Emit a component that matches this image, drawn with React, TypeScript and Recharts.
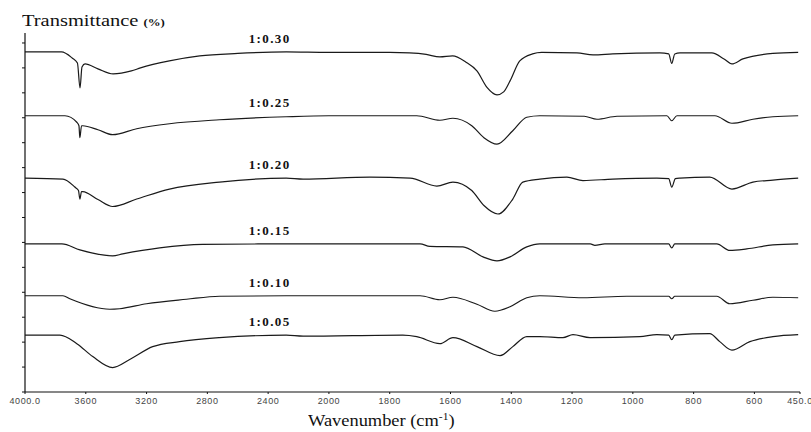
import { LineChart, Line, XAxis, YAxis, ReferenceDot } from 'recharts'

// FTIR spectra, stacked. x axis is split: 4000-2000 at half scale, 2000-450 at full scale.
const seriesNames = ['1:0.30', '1:0.25', '1:0.20', '1:0.15', '1:0.10', '1:0.05']

const wn030 = [4000, 3760, 3690, 3655, 3638, 3625, 3605, 3520, 3420, 3300, 3240, 3050, 2850, 2600, 2280, 2000, 1800, 1735, 1680, 1635, 1593, 1550, 1513, 1480, 1447, 1425, 1404, 1372, 1330, 1300, 1184, 1131, 1066, 911, 882, 872, 862, 845, 740, 700, 674, 638, 539, 456]
const t030 = [68.2, 68.2, 67.0, 66.0, 61.0, 65.2, 65.8, 64.8, 63.8, 64.4, 65.0, 66.4, 67.4, 67.9, 68.2, 68.1, 68.1, 68.0, 67.7, 67.2, 67.4, 66.2, 64.4, 61.1, 59.6, 60.2, 62.4, 66.4, 67.8, 68.1, 68.0, 67.6, 67.8, 68.0, 67.8, 65.9, 67.8, 68.0, 68.0, 66.8, 65.8, 66.8, 67.9, 68.1]

const wn025 = [4000, 3737, 3659, 3645, 3639, 3628, 3620, 3520, 3423, 3265, 3049, 2720, 2281, 2000, 1711, 1635, 1592, 1530, 1490, 1447, 1395, 1349, 1306, 1160, 1118, 1052, 888, 872, 855, 730, 674, 605, 539, 456]
const t025 = [55.4, 55.4, 54.1, 53.4, 51.0, 53.4, 53.4, 52.6, 51.6, 52.8, 53.8, 54.6, 55.2, 55.4, 55.4, 54.5, 54.9, 53.4, 51.0, 49.7, 52.4, 55.1, 55.4, 55.3, 54.7, 55.3, 55.4, 54.4, 55.4, 55.4, 53.9, 54.7, 55.2, 55.4]

const wn020 = [4000, 3750, 3672, 3648, 3639, 3628, 3620, 3520, 3423, 3265, 3049, 2720, 2281, 2170, 1865, 1733, 1645, 1592, 1530, 1490, 1444, 1395, 1362, 1306, 1217, 1164, 1066, 921, 882, 872, 860, 845, 747, 674, 605, 539, 456]
const t020 = [42.9, 42.7, 41.1, 40.4, 38.7, 40.2, 40.2, 38.6, 37.2, 38.7, 40.7, 42.1, 42.9, 42.7, 43.1, 42.9, 41.3, 42.1, 40.4, 37.4, 35.7, 38.7, 42.1, 42.7, 43.1, 42.4, 42.7, 42.9, 42.8, 41.1, 42.8, 42.9, 43.1, 40.7, 42.1, 42.5, 42.9]

const wn015 = [4000, 3757, 3639, 3423, 3357, 3114, 2832, 2281, 1700, 1668, 1559, 1493, 1447, 1404, 1349, 1306, 1140, 1125, 1092, 882, 872, 862, 724, 681, 625, 539, 456]
const t015 = [29.7, 29.7, 28.5, 27.3, 27.7, 28.9, 29.6, 29.7, 29.7, 29.2, 29.1, 27.1, 26.3, 27.1, 29.1, 29.7, 29.7, 29.4, 29.7, 29.7, 28.9, 29.7, 29.7, 28.4, 28.7, 29.5, 29.7]

const wn010 = [4000, 3750, 3705, 3442, 3377, 3200, 2937, 2720, 2281, 1700, 1635, 1592, 1513, 1454, 1404, 1349, 1306, 1164, 1020, 882, 872, 862, 724, 681, 605, 539, 456]
const t010 = [19.3, 19.3, 18.7, 16.6, 16.7, 17.7, 18.6, 19.2, 19.3, 19.3, 18.5, 19.0, 17.6, 16.2, 17.1, 18.9, 19.3, 18.9, 19.2, 19.2, 18.7, 19.2, 19.2, 17.7, 18.4, 19.0, 18.9]

const wn005 = [4000, 3770, 3659, 3554, 3423, 3311, 3160, 2983, 2720, 2281, 2170, 1757, 1711, 1635, 1592, 1513, 1437, 1395, 1349, 1306, 1230, 1197, 1141, 977, 921, 882, 872, 862, 747, 714, 674, 615, 539, 456]
const t005 = [11.4, 11.4, 9.7, 7.1, 4.9, 6.5, 9.1, 10.1, 10.9, 11.4, 11.2, 11.4, 11.1, 9.7, 10.9, 9.1, 7.3, 9.1, 11.1, 11.1, 10.9, 11.5, 10.9, 11.1, 11.5, 11.4, 10.5, 11.4, 11.7, 10.1, 8.4, 10.1, 11.1, 11.5]

const xTicks = [4000, 3600, 3200, 2800, 2400, 2000, 1800, 1600, 1400, 1200, 1000, 800, 600, 450]
const yTicks = [0, 5, 10, 15, 20, 25, 30, 35, 40, 45, 50, 55, 60, 65, 70]

// wavenumber -> position on the split axis
const toU = (wn: number) => (wn >= 2000 ? (4000 - wn) / 2 : 1000 + (2000 - wn))
const fromU = (u: number) => (u <= 1000 ? 4000 - u * 2 : 2000 - (u - 1000))

const build = (wn: number[], t: number[]) => wn.map((w, i) => ({ u: toU(w), t: t[i] }))

const spectra = [
  build(wn030, t030),
  build(wn025, t025),
  build(wn020, t020),
  build(wn015, t015),
  build(wn010, t010),
  build(wn005, t005),
]

const serif = '"Liberation Serif", "Times New Roman", serif'

export default function App() {
  return (
    <div style={{ position: 'absolute', left: 0, top: 0, width: 811, height: 432, background: '#fff' }}>
      <LineChart width={811} height={432} margin={{ top: 33, right: 11, left: 15, bottom: 0 }}>
        <XAxis
          type="number"
          dataKey="u"
          domain={[0, 2550]}
          allowDataOverflow
          ticks={xTicks.map(toU)}
          tickFormatter={(v: number) => {
            const w = Math.round(fromU(v))
            return w === 4000 || w === 450 ? `${w}.0` : `${w}`
          }}
          tick={{ fontSize: 9, fill: '#444', fontFamily: '"Liberation Sans", sans-serif', letterSpacing: 0.6 }}
          axisLine={{ stroke: '#111', strokeWidth: 1.2 }}
          tickLine={{ stroke: '#111' }}
          tickSize={2}
          tickMargin={4}
          height={40}
          interval={0}
        />
        <YAxis
          type="number"
          domain={[0, 72]}
          allowDataOverflow
          ticks={yTicks}
          tickFormatter={() => ''}
          axisLine={{ stroke: '#111', strokeWidth: 1.2 }}
          tickLine={{ stroke: '#111' }}
          tickSize={3}
          width={10}
        />
        {spectra.map((d, i) => (
          <Line
            key={seriesNames[i]}
            data={d}
            dataKey="t"
            type="monotone"
            stroke="#1a1a1a"
            strokeWidth={1.2}
            dot={false}
            activeDot={false}
            isAnimationActive={false}
          />
        ))}
        {spectra.map((d, i) => (
          <ReferenceDot
            key={'lab' + i}
            x={toU(2390)}
            y={d[0].t + 2.7}
            r={0}
            fill="none"
            stroke="none"
            label={{
              value: seriesNames[i],
              position: 'center',
              fill: '#111',
              fontSize: 13,
              fontWeight: 700,
              fontFamily: serif,
              letterSpacing: 1.4,
            }}
          />
        ))}
      </LineChart>
      <div
        style={{
          position: 'absolute',
          left: 22,
          top: 12,
          fontFamily: serif,
          fontSize: 16,
          color: '#111',
          whiteSpace: 'nowrap',
          transform: 'scaleX(1.28)',
          transformOrigin: 'left top',
        }}
      >
        Transmittance <span style={{ fontSize: 10, fontWeight: 700 }}>(%)</span>
      </div>
      <div
        style={{
          position: 'absolute',
          left: 308,
          top: 411,
          fontFamily: serif,
          fontSize: 16,
          color: '#111',
          whiteSpace: 'nowrap',
          transform: 'scaleX(1.15)',
          transformOrigin: 'left top',
        }}
      >
        Wavenumber (cm<sup style={{ fontSize: 10 }}>-1</sup>)
      </div>
    </div>
  )
}
